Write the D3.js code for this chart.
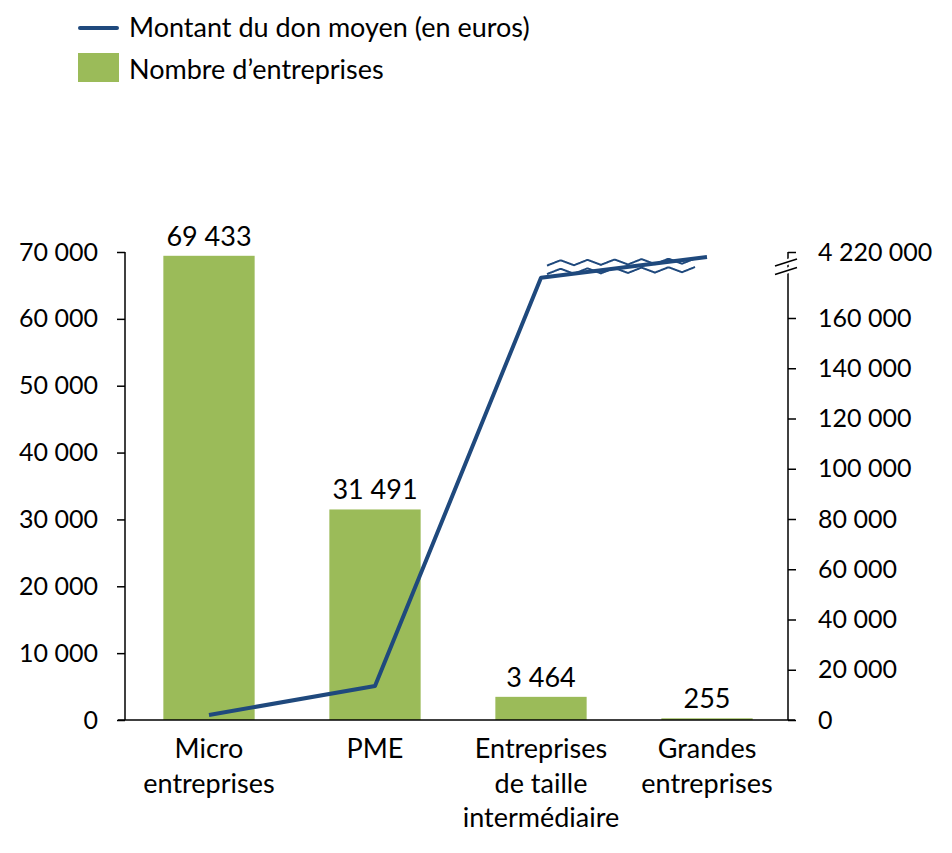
<!DOCTYPE html>
<html><head><meta charset="utf-8">
<script src="https://cdn.jsdelivr.net/npm/d3@7"></script>
<style>body{margin:0;background:#fff}svg{display:block}text{font-family:Lato,"Noto Sans",sans-serif;fill:#000}</style>
</head><body><svg id="c" width="952" height="853"></svg>
<script>
const categories = ["Micro entreprises", "PME", "Entreprises de taille intermédiaire", "Grandes entreprises"];
const categoryLines = [["Micro","entreprises"],["PME"],["Entreprises","de taille","intermédiaire"],["Grandes","entreprises"]];
const nbEntreprises = [69433, 31491, 3464, 255];
const donMoyen = [2000, 13500, 176000, 4170000];
const leftTicks = [0,10000,20000,30000,40000,50000,60000,70000];
const rightTicks = [0,20000,40000,60000,80000,100000,120000,140000,160000,4220000];
const legendLabels = ["Montant du don moyen (en euros)", "Nombre d\u2019entreprises"];

const green = "#9bbb59", blue = "#1f497d";
const fmt = v => d3.format(",")(v).replace(/,/g, " ");
const svg = d3.select("#c");
const fsTick = 25, fsLab = 27;

const x = d3.scaleBand().domain(categories).range([126, 790]).paddingInner(0.45).paddingOuter(0.225);
const yL = d3.scaleLinear().domain([0, 70000]).range([720, 252]);
const yR = d3.scaleLinear().domain([0, 180000, 4100000, 4220000]).range([720, 267.75, 264, 252]);

// bars
svg.selectAll("rect.bar").data(nbEntreprises).join("rect")
  .attr("x", (d,i)=>x(categories[i])).attr("width", x.bandwidth())
  .attr("y", d=>yL(d)).attr("height", d=>720-yL(d)).attr("fill", green);
svg.selectAll("text.vl").data(nbEntreprises).join("text")
  .attr("x", (d,i)=>x(categories[i])+x.bandwidth()/2).attr("y", d=>yL(d)-10)
  .attr("text-anchor","middle").style("font-size", fsLab+"px").text(d=>fmt(d));

// left axis
const gL = svg.append("g").attr("transform","translate(125,0)")
  .call(d3.axisLeft(yL).tickValues(leftTicks).tickFormat(fmt).tickSize(8).tickPadding(19));
// right axis
const gR = svg.append("g").attr("transform","translate(788,0)")
  .call(d3.axisRight(yR).tickValues(rightTicks).tickFormat(fmt).tickSize(8).tickPadding(22));
[gL,gR].forEach(g=>{
  g.select(".domain").attr("stroke","#000").attr("stroke-width",1.5);
  g.selectAll(".tick line").attr("stroke","#000").attr("stroke-width",1.5);
  g.selectAll(".tick text").style("font-size", fsTick+"px").style("font-family","Lato").attr("fill","#000");
});
gL.select(".domain").attr("d","M0,720V252");
gR.select(".domain").attr("d","M0,720V252");
// x axis
svg.append("line").attr("x1",118).attr("x2",795).attr("y1",720).attr("y2",720).attr("stroke","#000").attr("stroke-width",1.5);

// break marks on right axis
[262.5, 271].forEach(c=>{
  svg.append("rect").attr("x",776).attr("y",c-3).attr("width",20).attr("height",6).attr("fill","#fff")
    .attr("transform",`rotate(-19,786,${c})`);
  svg.append("line").attr("x1",775).attr("x2",797).attr("y1",c+3.5).attr("y2",c-3.5).attr("stroke","#000").attr("stroke-width",1.5);
});

// line
const line = d3.line().x((d,i)=>x(categories[i])+x.bandwidth()/2).y(d=>yR(d));
svg.append("path").datum(donMoyen).attr("d", line).attr("fill","none")
  .attr("stroke", blue).attr("stroke-width",4).attr("stroke-linejoin","round");

// wavy break lines across the segment
[263, 271.5].forEach(c=>{
  const pts = d3.range(0, 149, 1).map(t=>{
    const ph = (t/27) % 1;
    const tri = ph < 0.5 ? (ph*4-1) : (3-ph*4);
    return [547+t, c - t*0.014 - 2.6*tri];
  });
  svg.append("path").attr("d", d3.line()(pts)).attr("fill","none").attr("stroke",blue).attr("stroke-width",2);
});

// category labels
categoryLines.forEach((lines,i)=>{
  const t = svg.append("text").attr("text-anchor","middle").style("font-size", fsLab+"px");
  lines.forEach((l,j)=>t.append("tspan").attr("x", x(categories[i])+x.bandwidth()/2).attr("y", 758+j*34.5).text(l));
});

// legend
svg.append("line").attr("x1",80).attr("x2",117).attr("y1",28).attr("y2",28).attr("stroke",blue).attr("stroke-width",4).attr("stroke-linecap","round");
svg.append("rect").attr("x",78).attr("y",53).attr("width",41).attr("height",29).attr("fill",green);
legendLabels.forEach((l,i)=>svg.append("text").attr("x",129).attr("y",37+i*42).style("font-size","27px").text(l));
</script></body></html>
